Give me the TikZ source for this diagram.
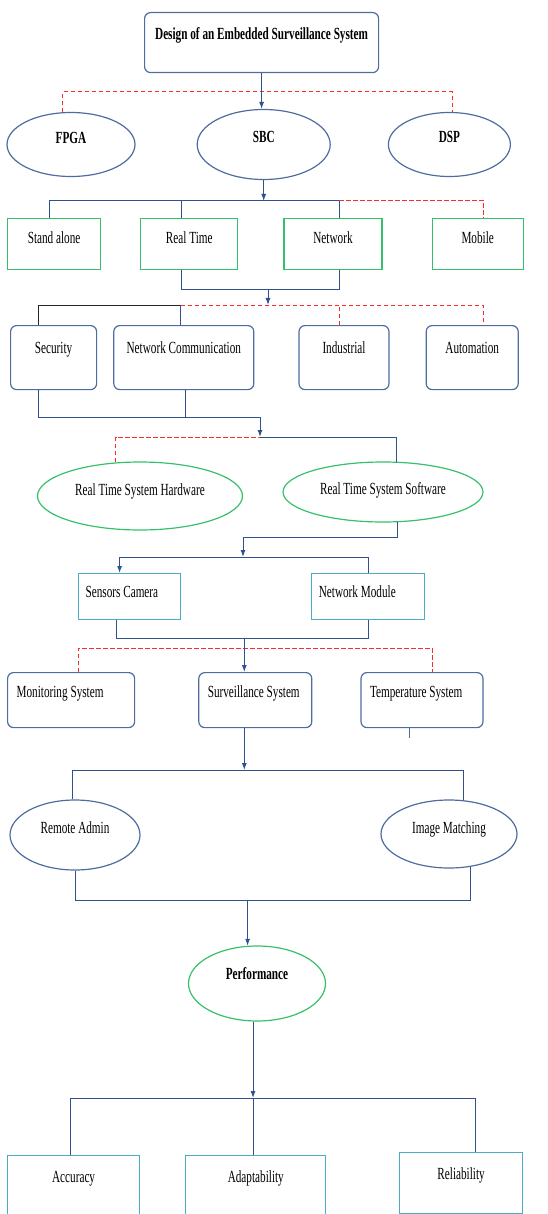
\documentclass[tikz,border=0pt]{standalone}
\usepackage{fontspec}
\setmainfont[FakeStretch=0.66]{Liberation Serif}
\usetikzlibrary{arrows.meta, positioning, shapes.geometric}

\definecolor{linkblue}{HTML}{2F528F}
\definecolor{boxblue}{HTML}{4E6C9E}
\definecolor{boxgreen}{HTML}{37C06C}
\definecolor{boxcyan}{HTML}{4BACC6}
\definecolor{dashred}{HTML}{FF2A2A}

\begin{document}
\begin{tikzpicture}[
        x=1pt, y=-1pt,
        every node/.style={font=\fontsize{17}{20}\selectfont, inner ysep=0pt, line width=1.2pt},
        bold/.style={font=\fontsize{17}{20}\selectfont\bfseries},
        oval/.style={draw, ellipse, inner sep=0pt, text height=8pt},
        titlebox/.style={draw=boxblue, rounded corners=6pt, minimum width=234pt, text height=27pt, text depth=33pt, bold},
        gbox/.style={draw=boxgreen, text height=25pt, text depth=26pt},
        rbox/.style={draw=boxblue, rounded corners=6pt, text height=28pt, text depth=36pt},
        cbox/.style={draw=boxcyan, align=flush left, inner xsep=7pt, text height=24pt, text depth=22pt},
        sbox/.style={draw=boxblue, rounded corners=6pt, align=flush left, inner xsep=9pt, text height=25pt, text depth=30pt},
        pbox/.style={draw=boxcyan, text height=27pt},
        link/.style={line width=1pt, draw=linkblue},
        redlink/.style={line width=1pt, draw=dashred, dash pattern=on 4.5pt off 2.5pt},
        arrow/.style={-{Latex[length=7pt,width=5pt]}, line width=1pt, draw=linkblue, fill=linkblue}
    ]
    \useasboundingbox (0,0) rectangle (547,1214);
    \clip (0,0) rectangle (547,1214);

    % Nodes
    \node[titlebox, anchor=north west] (design) at (144,12) {Design of an Embedded Surveillance System};
    \node[oval, draw=boxblue, bold, minimum width=128pt, minimum height=64pt, text depth=9pt] (fpga) at (71,144.5) {FPGA};
    \node[oval, draw=boxblue, bold, minimum width=133pt, minimum height=70pt, text depth=12pt, right=61pt of fpga] (sbc) {SBC};
    \node[oval, draw=boxblue, bold, minimum width=122pt, minimum height=64pt, text depth=11pt, right=57pt of sbc] (dsp) {DSP};

    \node[gbox, anchor=north west, minimum width=93pt] (standalone) at (7,218) {Stand alone};
    \node[gbox, minimum width=97pt, right=39pt of standalone] (realtime) {Real Time};
    \node[gbox, minimum width=98pt, right=45pt of realtime] (network) {Network};
    \node[gbox, minimum width=91pt, right=49pt of network] (mobile) {Mobile};

    \node[rbox, anchor=north west, minimum width=86pt] (security) at (10,325) {Security};
    \node[rbox, minimum width=140pt, right=16pt of security] (netcomm) {Network Communication};
    \node[rbox, minimum width=90pt, right=44pt of netcomm] (industrial) {Industrial};
    \node[rbox, minimum width=92pt, right=36pt of industrial] (automation) {Automation};

    \node[oval, draw=boxgreen, minimum width=205pt, minimum height=68pt, text depth=10pt] (rtsh) at (140,496) {Real Time System Hardware};
    \node[oval, draw=boxgreen, minimum width=200pt, minimum height=60pt, text height=10pt, text depth=6pt] (rtss) at (383,492) {Real Time System Software};

    \node[cbox, anchor=north west, text width=88pt] (sensors) at (78,573) {Sensors Camera};
    \node[cbox, text width=99pt, right=130pt of sensors] (netmodule) {Network Module};

    \node[sbox, anchor=north west, text width=109pt] (monitoring) at (7,672) {Monitoring System};
    \node[sbox, text width=95pt, right=63pt of monitoring] (surveillance) {Surveillance System};
    \node[sbox, text width=104pt, right=48pt of surveillance] (temperature) {Temperature System};

    \node[oval, draw=boxblue, minimum width=130pt, minimum height=70pt, text depth=12pt] (remote) at (75,835) {Remote Admin};
    \node[oval, draw=boxblue, minimum width=136pt, minimum height=68pt, text depth=10pt] (imagematch) at (449,834) {Image Matching};

    \node[oval, draw=boxgreen, bold, minimum width=137pt, minimum height=75pt, text depth=17pt] (performance) at (257,983.5) {Performance};

    \node[pbox, anchor=north west, minimum width=132pt, text depth=48pt] (accuracy) at (7,1155) {Accuracy};
    \node[pbox, minimum width=140pt, text depth=48pt, right=45pt of accuracy] (adaptability) {Adaptability};
    \node[pbox, anchor=north west, minimum width=123pt, text depth=34pt] (reliability) at (399,1152) {Reliability};

    % Bus levels
    \coordinate (busA) at (0,92);
    \coordinate (busB) at (0,201);
    \coordinate (busC) at (268,290);
    \coordinate (busD) at (0,305);
    \coordinate (busE) at (260,417);
    \coordinate (busF) at (0,437);
    \coordinate (busG) at (243,537);
    \coordinate (busH) at (0,557);
    \coordinate (busI) at (0,638);
    \coordinate (busJ) at (0,648);
    \coordinate (busK) at (0,770);
    \coordinate (busL) at (0,900);
    \coordinate (busM) at (0,1098);

    % Connections
    \draw[redlink] (fpga.104) |- (dsp.85 |- busA) -- (dsp.85);
    \draw[arrow] (design.south) -- (design.south |- sbc.north);
    \draw[arrow] (sbc.south) -- (sbc.south |- busB);

    \draw[link] ([xshift=-5pt]standalone.north) |- ([xshift=6pt]network.north |- busB) -- ([xshift=6pt]network.north);
    \draw[link] ([xshift=-8pt]realtime.north) -- ([xshift=-8pt]realtime.north |- busB);
    \draw[redlink] ([xshift=6pt]network.north |- busB) -| ([xshift=6pt]mobile.north);

    \draw[link] ([xshift=-8pt]realtime.south) |- ([xshift=6pt]network.south |- busC) -- ([xshift=6pt]network.south);
    \draw[arrow] (busC) -- (busC |- busD);

    \draw[redlink] ([xshift=-3pt]netcomm.north |- busD) -| ([xshift=11pt]automation.north);
    \draw[redlink] ([xshift=-5pt]industrial.north) -- ([xshift=-5pt]industrial.north |- busD);
    \draw[link, draw=black!85] ([xshift=-15pt]security.north) |- ([xshift=-3pt]netcomm.north |- busD);
    \draw[link] ([xshift=-3pt]netcomm.north) -- ([xshift=-3pt]netcomm.north |- busD);

    \draw[link] ([xshift=-15pt]security.south) |- (busE);
    \draw[link] ([xshift=2pt]netcomm.south) -- ([xshift=2pt]netcomm.south |- busE);
    \draw[arrow] (busE) -- (busE |- busF);

    \draw[redlink] (rtsh.126) |- (busE |- busF);
    \draw[link] (busE |- busF) -| (rtss.66);

    \draw[link] (rtss.295) |- (busG);
    \draw[arrow] (busG) -- (busG |- busH);
    \draw[arrow] ([xshift=-10pt]sensors.north |- busH) -- ([xshift=-10pt]sensors.north);
    \draw[link] ([xshift=-10pt]sensors.north |- busH) -| (netmodule.north);

    \draw[link] ([xshift=-13pt]sensors.south) |- (netmodule.south |- busI) -- (netmodule.south);
    \draw[redlink] ([xshift=7pt]monitoring.north) |- ([xshift=10pt]temperature.north |- busJ) -- ([xshift=10pt]temperature.north);
    \draw[arrow] ([xshift=-11pt]surveillance.north |- busI) -- ([xshift=-11pt]surveillance.north);
    \draw[link, draw=boxblue] ([xshift=-13pt]temperature.south) -- ++(0,10);

    \draw[arrow] ([xshift=-11pt]surveillance.south) -- ([xshift=-11pt]surveillance.south |- busK);
    \draw[link] (remote.94) |- (imagematch.67 |- busK) -- (imagematch.67);

    \draw[link] (remote.south) |- (imagematch.303 |- busL) -- (imagematch.303);
    \draw[arrow] (performance.104 |- busL) -- (performance.104);
    \draw[arrow] (performance.264) -- (performance.264 |- busM);

    \draw[link] ([xshift=-3pt]accuracy.north) |- ([xshift=14pt]reliability.north |- busM) -- ([xshift=14pt]reliability.north);
    \draw[link] ([xshift=-2pt]adaptability.north) -- ([xshift=-2pt]adaptability.north |- busM);

\end{tikzpicture}
\end{document}
